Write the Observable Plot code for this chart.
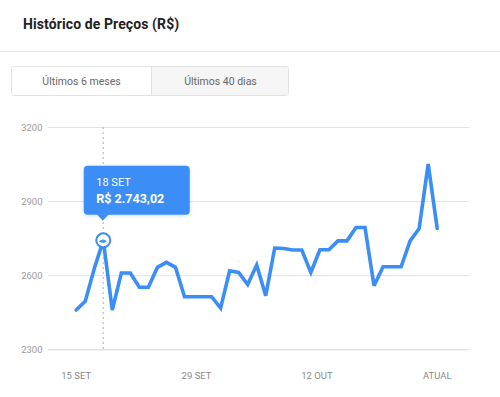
<!DOCTYPE html>
<html><head><meta charset="utf-8">
<script src="https://cdn.jsdelivr.net/npm/d3@7"></script>
<script src="https://cdn.jsdelivr.net/npm/@observablehq/plot@0.6"></script>
<style>
body{margin:0;background:#fff;font-family:Roboto,"Noto Sans",sans-serif;width:500px;height:397px;overflow:hidden;position:relative}
#hdr{position:absolute;left:0;top:0;width:500px;height:51px;border-bottom:1px solid #e6e6e6;}
#title{position:absolute;left:23px;top:16px;font-weight:700;font-size:14px;color:#222;letter-spacing:0.1px}
#tabs{position:absolute;left:11px;top:66px;width:276px;height:28px;border:1px solid #e2e2e2;border-radius:3px;display:flex;overflow:hidden}
.tab{flex:0 0 auto;display:flex;align-items:center;justify-content:center;font-size:10.5px;color:#666}
#t1{width:139px;background:#fff}
#t2{width:137px;background:#f5f5f5;border-left:1px solid #e2e2e2}
#chart{position:absolute;left:0;top:100px}
</style></head>
<body>
<div id="hdr"><div id="title">Histórico de Preços (R$)</div></div>
<div id="tabs"><div class="tab" id="t1">Últimos 6 meses</div><div class="tab" id="t2">Últimos 40 dias</div></div>
<div id="chart"></div>
<script>
const days = ["15 SET","16 SET","17 SET","18 SET","19 SET","20 SET","21 SET","22 SET","23 SET","24 SET","25 SET","26 SET","27 SET","28 SET","29 SET","30 SET",
  "01 OUT","02 OUT","03 OUT","04 OUT","05 OUT","06 OUT","07 OUT","08 OUT","09 OUT","10 OUT","11 OUT","12 OUT","13 OUT","14 OUT","15 OUT","16 OUT","17 OUT","18 OUT","19 OUT","20 OUT","21 OUT","22 OUT","23 OUT","24 OUT","25 OUT"];
const prices = [2461,2496,2628,2743.02,2461,2611,2611,2553,2553,2634,2654,2634,2515,2515,2515,2515,
  2469,2620,2613,2564,2643,2519,2712,2710,2704,2704,2613,2705,2705,2741,2741,2795,2795,2559,2636,2636,2636,2741,2791,3052,2791];
const yTicks = [2300,2600,2900,3200];
const xTickLabels = ["15 SET","29 SET","12 OUT","ATUAL"];
const xTickPos = [0, 40/3, 80/3, 40];
const selected = 3;

const data = prices.map((p,i)=>({i, day: days[i], price: p}));
const blue = "#3a8ef5";

const chart = Plot.plot({
  width: 500, height: 297,
  marginTop: 27, marginBottom: 47.7, marginLeft: 48, marginRight: 31,
  style: {fontFamily: "Roboto, sans-serif", fontSize: "9.5px", color: "#999", background: "transparent"},
  x: {domain: [0, days.length-1], insetLeft: 27.7, insetRight: 32.3},
  y: {domain: [2300, 3200]},
  marks: [
    Plot.ruleY(yTicks.slice(1), {stroke: "#e3e3e3", strokeWidth: 1}),
    Plot.ruleY([yTicks[0]], {stroke: "#e3e3e3", strokeWidth: 1.6}),
    Plot.axisY(yTicks, {tickSize: 0, tickPadding: 6, tickFormat: d => String(d), fill: "#9a9a9a", label: null}),
    Plot.axisX(xTickPos, {tickSize: 0, tickPadding: 22, tickFormat: (d,k) => xTickLabels[k], fill: "#8a8a8a", label: null}),
    Plot.ruleX([selected], {stroke: "#c4c4c4", strokeWidth: 1.3, strokeDasharray: "2,3"}),
    Plot.line(data, {x: "i", y: "price", stroke: blue, strokeWidth: 3.6, strokeLinejoin: "miter", strokeMiterlimit: 3}),
    Plot.dot([data[selected]], {x: "i", y: "price", r: 7, fill: "#fff", stroke: blue, strokeWidth: 2}),
    Plot.text([data[selected]], {x: "i", y: "price", text: () => "◂▸", fill: blue, fontSize: 7, fontWeight: "bold"})
  ]
});
document.getElementById("chart").appendChild(chart);

// tooltip anchored on the selected point via the plot's scales
const px = chart.scale("x").apply(selected), py = chart.scale("y").apply(prices[selected]);
const svg = d3.select(chart);
const g = svg.append("g").attr("transform", `translate(${px},${py})`).attr("text-anchor", "start");
g.append("rect").attr("x", -19).attr("y", -74).attr("width", 106).attr("height", 49).attr("rx", 4)
  .attr("fill", blue).style("filter", "drop-shadow(0 1px 2px rgba(0,0,0,0.15))");
g.append("path").attr("d", "M-6,-25.5L0,-19L6,-25.5Z").attr("fill", blue);
g.append("text").attr("x", -6.5).attr("y", -53.6).attr("text-anchor", "start").attr("fill", "#fff").style("font-size", "11px").style("font-family","Roboto, sans-serif").text(days[selected]);
g.append("text").attr("x", -6.5).attr("y", -37.3).attr("text-anchor", "start").attr("fill", "#fff").style("font-size", "12.5px").style("font-weight", "700").style("font-family","Roboto, sans-serif")
  .text("R$ " + prices[selected].toLocaleString("pt-BR", {minimumFractionDigits: 2, maximumFractionDigits: 2}));
</script>
</body></html>
